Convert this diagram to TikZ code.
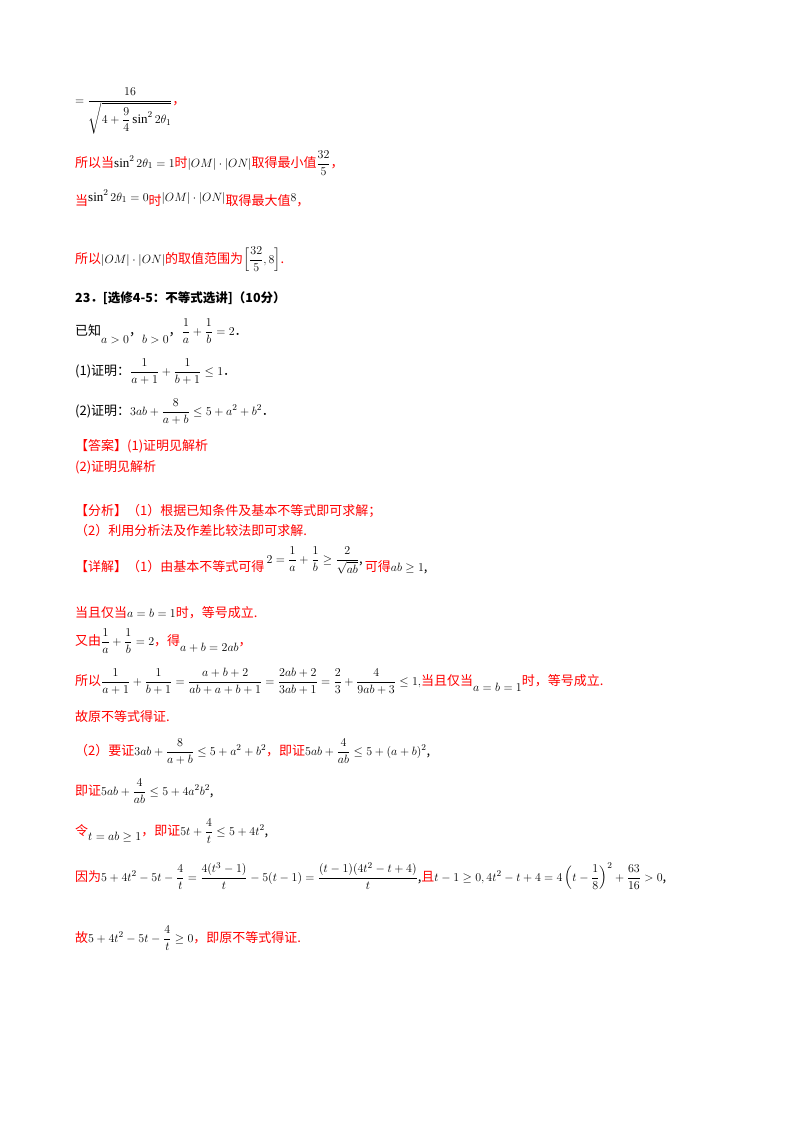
\documentclass[tikz,border=0pt]{standalone}
\usepackage{amsmath,amssymb}
\usepackage{fontspec}
\setmainfont{Liberation Serif}
\newfontfamily\cjk{Noto Sans CJK SC}
\newcommand\rc[1]{\textcolor{red}{#1}}
\begin{document}
\begin{tikzpicture}[x=1pt,y=-1pt,
  ln/.style={anchor=base west,inner sep=0pt,font=\cjk\fontsize{13}{15}\selectfont},
  rl/.style={ln,text=red}]
\useasboundingbox[fill=white] (0,0) rectangle (800,1132);
\node[ln] (l1) at (75,104) {$=\dfrac{16}{\sqrt{4+\dfrac{9}{4}\sin^2 2\theta_1}}$\rc{，}};
\node[ln] (l2) at (75,167) {\rc{所以当}$\sin^2 2\theta_1=1$\rc{时}$|OM|\cdot|ON|$\rc{取得最小值}$\dfrac{32}{5}$\rc{，}};
\node[ln] (l3) at (75,205) {\rc{当}\raisebox{4pt}{$\sin^2 2\theta_1=0$}\rc{时}\raisebox{4pt}{$|OM|\cdot|ON|$}\rc{取得最大值}\raisebox{4pt}{$8$}\rc{，}};
\node[ln] (l4) at (75,263) {\rc{所以}$|OM|\cdot|ON|$\rc{的取值范围为}$\left[\dfrac{32}{5},8\right]$\rc{.}};
\node[ln,font=\cjk\bfseries\fontsize{12.5}{15}\selectfont] (l5) at (75,302) {23．[选修4-5：不等式选讲]（10分）};
\node[ln] (l6) at (75,335) {已知\raisebox{-8pt}{$a>0$}，\raisebox{-8pt}{$b>0$}，$\dfrac1a+\dfrac1b=2$．};
\node[ln] (l7) at (75,375) {(1)证明：$\dfrac1{a+1}+\dfrac1{b+1}\le1$．};
\node[ln] (l8) at (75,415) {(2)证明：$3ab+\dfrac8{a+b}\le5+a^2+b^2$．};
\node[rl] (l9) at (75,450) {【答案】(1)证明见解析};
\node[rl] (l10) at (75,471) {(2)证明见解析};
\node[rl] (l11) at (75,515) {【分析】（1）根据已知条件及基本不等式即可求解；};
\node[rl] (l12) at (75,535) {（2）利用分析法及作差比较法即可求解.};
\node[ln] (l13) at (75,571) {\rc{【详解】（1）由基本不等式可得}\,\raisebox{8pt}{$2=\dfrac1a+\dfrac1b\ge\dfrac2{\sqrt{ab}}$,}\,\rc{可得}$ab\ge1$,};
\node[ln] (l14) at (75,617) {\rc{当且仅当}$a=b=1$\rc{时，等号成立.}};
\node[ln] (l15) at (75,645) {\rc{又由}$\dfrac1a+\dfrac1b=2$\rc{，得}\raisebox{-6pt}{$a+b=2ab$}\rc{，}};
\node[ln] (l16) at (75,685) {\rc{所以}$\dfrac1{a+1}+\dfrac1{b+1}=\dfrac{a+b+2}{ab+a+b+1}=\dfrac{2ab+2}{3ab+1}=\dfrac23+\dfrac4{9ab+3}\le1,$\rc{当且仅当}\raisebox{-6pt}{$a=b=1$}\rc{时，等号成立.}};
\node[rl] (l17) at (75,721) {故原不等式得证.};
\node[ln] (l18) at (75,755) {\rc{（2）要证}$3ab+\dfrac8{a+b}\le5+a^2+b^2$\rc{，即证}$5ab+\dfrac4{ab}\le5+(a+b)^2$,};
\node[ln] (l19) at (75,795) {\rc{即证}$5ab+\dfrac4{ab}\le5+4a^2b^2$,};
\node[ln] (l20) at (75,835) {\rc{令}\raisebox{-5pt}{$t=ab\ge1$}\rc{，即证}$5t+\dfrac4t\le5+4t^2$,};
\node[ln] (l21) at (75,881) {\rc{因为}$5+4t^2-5t-\dfrac4t=\dfrac{4(t^3-1)}t-5(t-1)=\dfrac{(t-1)(4t^2-t+4)}t$,\rc{且}$t-1\ge0,4t^2-t+4=4\left(t-\dfrac18\right)^2+\dfrac{63}{16}>0$,};
\node[ln] (l22) at (75,942) {\rc{故}$5+4t^2-5t-\dfrac4t\ge0$\rc{，即原不等式得证.}};
\end{tikzpicture}
\end{document}
